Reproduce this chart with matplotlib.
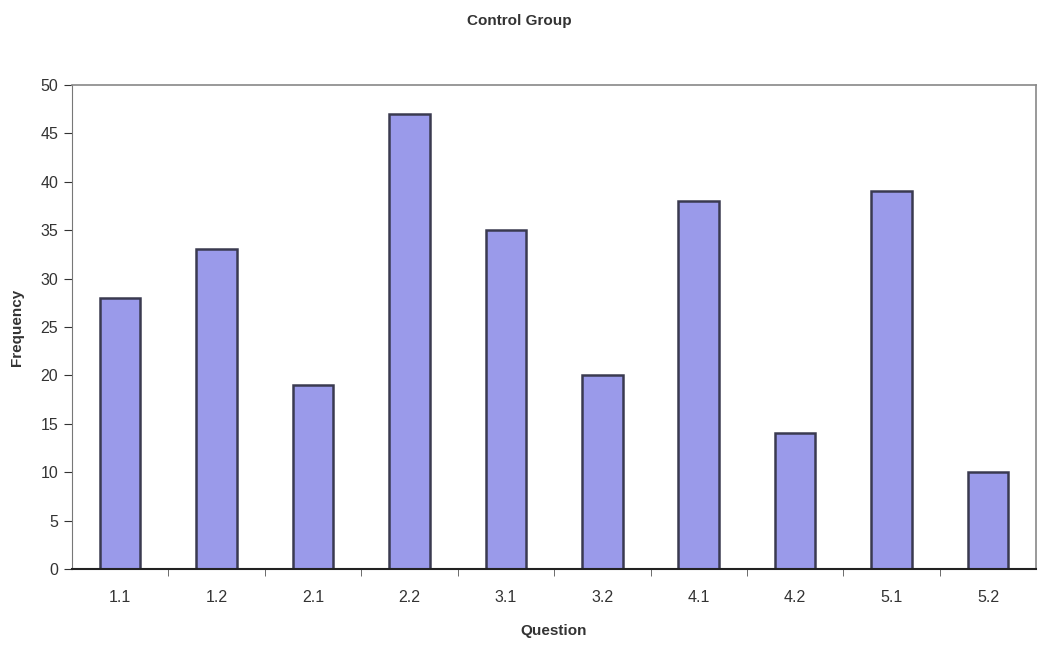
import matplotlib
matplotlib.use('Agg')
import matplotlib.pyplot as plt
import numpy as np

questions = ['1.1', '1.2', '2.1', '2.2', '3.1', '3.2', '4.1', '4.2', '5.1', '5.2']
frequency = [28, 33, 19, 47, 35, 20, 38, 14, 39, 10]

plt.rcParams['font.family'] = ['Liberation Sans', 'DejaVu Sans']

fig = plt.figure(figsize=(10.39, 6.48), dpi=100)
ax = fig.add_axes([0.0693, 0.122, 0.928, 0.747])

x = np.arange(len(questions))
ax.bar(x, frequency, width=0.42, color='#9a9aea', edgecolor='#3a3a50', linewidth=1.8)

ax.set_xlim(-0.5, len(questions) - 0.5)
ax.set_ylim(0, 50)
ax.set_yticks(range(0, 51, 5))
ax.set_xticks(x)
ax.set_xticklabels(questions)
ax.set_xticks(x[:-1] + 0.5, minor=True)

ax.tick_params(axis='x', which='major', length=0, pad=15, labelsize=11.5, colors='#333333')
ax.tick_params(axis='x', which='minor', length=5, direction='out', color='#555555')
ax.tick_params(axis='y', length=6, direction='out', labelsize=11.5, colors='#333333', pad=4)

for side in ['top', 'right']:
    ax.spines[side].set_color('#888888')
    ax.spines[side].set_linewidth(1.2)
ax.spines['left'].set_color('#777777')
ax.spines['bottom'].set_color('#222222')
ax.spines['bottom'].set_linewidth(1.5)

ax.set_xlabel('Question', fontsize=11, fontweight='bold', color='#333333', labelpad=14)
ax.set_ylabel('Frequency', fontsize=11, fontweight='bold', color='#333333', labelpad=12)
fig.text(0.5, 0.968, 'Control Group', ha='center', va='center', fontsize=11,
         fontweight='bold', color='#333333')

fig.savefig('out.png', dpi=100)
